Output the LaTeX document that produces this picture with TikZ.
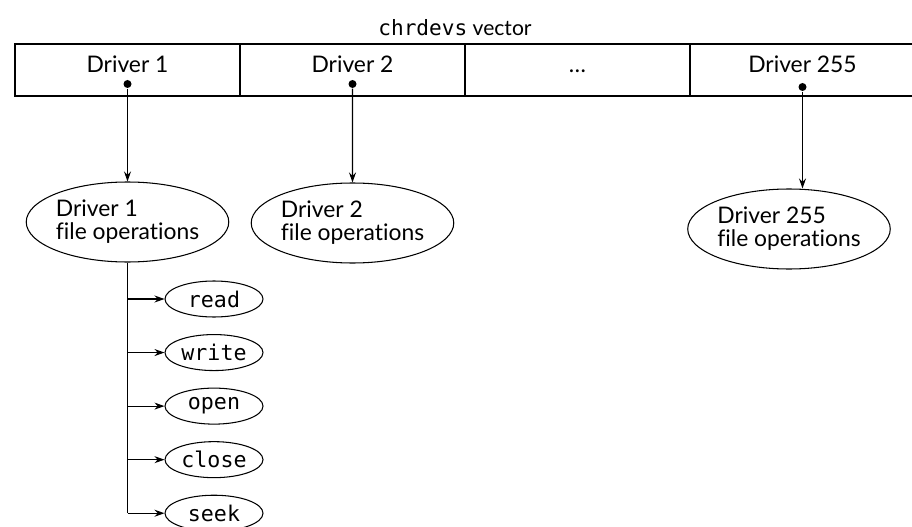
\documentclass[tikz,border=0pt]{standalone}
\usepackage{fontspec}
\setmainfont{Lato}[Ligatures=CommonOff]
\setmonofont{DejaVu Sans Mono}
\usetikzlibrary{positioning, arrows.meta, shapes.geometric}

\begin{document}
\begin{tikzpicture}[
    line width=0.6pt,
    cell/.style={rectangle, draw, minimum width=4.5cm, minimum height=1.04cm, inner sep=0pt, outer sep=0pt},
    lbl/.style={font=\fontsize{13}{15}\selectfont, text height=9.4pt, text depth=0pt},
    fops/.style={ellipse, draw, minimum width=3.94cm, minimum height=1.6cm, inner sep=0pt, align=left, font=\fontsize{13}{13}\selectfont},
    op/.style={ellipse, draw, minimum width=1.96cm, minimum height=0.72cm, inner sep=0pt, font=\fontsize{12.3}{14}\selectfont\ttfamily},
    dot/.style={circle, fill, inner sep=0pt, minimum size=0.16cm},
    arr/.style={-{Stealth[length=0.2cm, width=0.14cm]}, line width=0.6pt},
]
    \useasboundingbox (0,0) rectangle (18.24,-10.54);

    % vector of drivers
    \node[font=\fontsize{12}{14}\selectfont] (title) at (9.1,-0.56) {\texttt{chrdevs} vector};
    \node[cell] (c1) at (2.55,-1.40) {};
    \node[cell, right=0pt of c1] (c2) {};
    \node[cell, right=0pt of c2] (c3) {};
    \node[cell, right=0pt of c3] (c4) {};

    \node[lbl] (t1) at ([yshift=0.12cm]c1.center) {Driver 1};
    \node[lbl] (t2) at ([yshift=0.12cm]c2.center) {Driver 2};
    \node[lbl] (t3) at ([yshift=0.12cm]c3.center) {\dots};
    \node[lbl] (t4) at ([yshift=0.12cm]c4.center) {Driver 255};

    \node[dot] (d1) at ([yshift=-0.28cm]c1.center) {};
    \node[dot] (d2) at ([yshift=-0.28cm]c2.center) {};
    \node[dot] (d4) at ([yshift=-0.34cm]c4.center) {};

    % file operation tables
    \node[fops] (f1) at (2.55,-4.44) {Driver 1\\file operations};
    \node[fops] (f2) at (7.05,-4.46) {Driver 2\\file operations};
    \node[fops] (f4) at (15.78,-4.58) {Driver 255\\file operations};

    \draw[arr] (d1) -- (f1);
    \draw[arr] (d2) -- (f2);
    \draw[arr] (d4) -- (d4 |- f4.north);

    % operations of driver 1
    \node[op] (read) at (4.28,-5.98) {read};
    \node[op, below=0.33cm of read] (write) {write};
    \node[op, below=0.33cm of write] (open) {open};
    \node[op, below=0.33cm of open] (close) {close};
    \node[op, below=0.33cm of close] (seek) {seek};

    \draw (f1.south) -- (f1.south |- seek.west);
    \foreach \o in {read, write, open, close, seek}
        \draw[arr] (f1.south |- \o.west) -- (\o.west);
\end{tikzpicture}
\end{document}
